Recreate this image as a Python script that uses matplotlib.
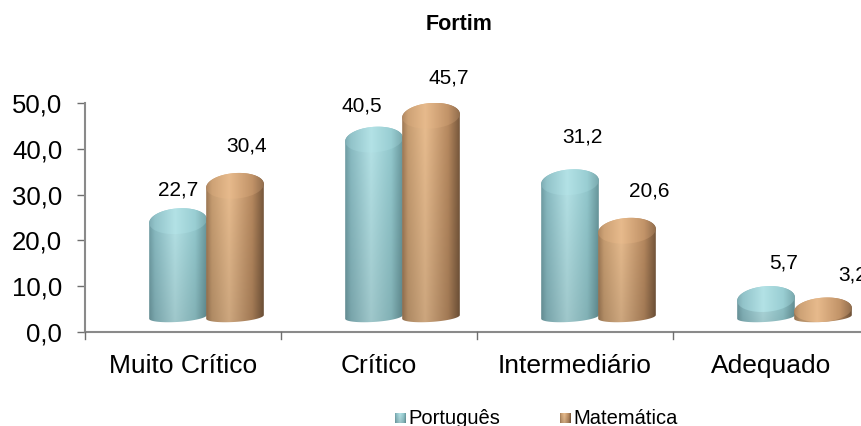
import numpy as np
import matplotlib
matplotlib.use("Agg")
import matplotlib.pyplot as plt
from matplotlib.patches import PathPatch
from matplotlib.path import Path

plt.rcParams['font.family'] = ['Liberation Sans', 'DejaVu Sans']

categories = ["Muito Crítico", "Crítico", "Intermediário", "Adequado"]
portugues = [22.7, 40.5, 31.2, 5.7]
matematica = [30.4, 45.7, 20.6, 3.2]
y_ticks = [0, 10, 20, 30, 40, 50]

W, H = 862, 426
fig = plt.figure(figsize=(W / 100, H / 100), dpi=100)
L, R, T, B = 85, 862, 103, 332
ax = fig.add_axes([L / W, 1 - B / H, (R - L) / W, (B - T) / H])
XMIN, XMAX = -0.5, -0.5 + (R - L) / 196
ax.set_xlim(XMIN, XMAX)
ax.set_ylim(0, 50)


def ramp(stops):
    xs = np.linspace(0, 1, 128)
    pos = [s[0] for s in stops]
    return np.stack([np.interp(xs, pos, [s[1][i] / 255 for s in stops]) for i in range(3)], axis=-1)


side_p = ramp([(0, (112, 158, 165)), (0.1, (138, 188, 195)), (0.45, (182, 228, 232)), (0.8, (148, 202, 207)), (1, (105, 152, 157))])
side_m = ramp([(0, (160, 122, 86)), (0.1, (200, 158, 114)), (0.4, (234, 190, 144)), (0.8, (184, 138, 96)), (1, (120, 88, 60))])
top_p = np.clip(side_p * 0.75 + 0.25 * np.array([170, 218, 222]) / 255, 0, 1)
top_m = np.clip(side_m * 0.75 + 0.25 * np.array([222, 174, 128]) / 255, 0, 1)

HALF_W = 0.147     # half cylinder width (category units)
A_TOP = 2.8        # top ellipse half height (data units)
A_BOT = 1.1        # bottom ellipse half height
TILT = 0.4         # slight perspective tilt
TOP_SHIFT = 4.3    # top edge above the value
BOT_EDGE = 2.2     # lowest edge of every cylinder
BASE = BOT_EDGE + A_BOT


def ell(xc, yc, a, t):
    return xc + HALF_W * np.cos(t), yc + a * np.sin(t) + TILT * np.cos(t)


def shaded(colors, n=64):
    f = np.linspace(1.0, 0.87, n)[:, None, None]
    return np.clip(colors[None, :, :] * f, 0, 1)


def cylinder(xc, value, side, top):
    edge = value + TOP_SHIFT
    a = min(A_TOP, (edge - BOT_EDGE) / 2)
    yt = edge - a
    t1 = np.linspace(0, -np.pi, 60)
    t2 = np.linspace(np.pi, 0, 60)
    bx, by = ell(xc, BASE, A_BOT, t1)
    tx, ty = ell(xc, yt, a, t2)
    body = PathPatch(Path(np.c_[np.r_[bx, tx, bx[0]], np.r_[by, ty, by[0]]]),
                     transform=ax.transData, fc='none', ec='none')
    ax.add_patch(body)
    ext = [xc - HALF_W, xc + HALF_W, BOT_EDGE - 1, edge + 1]
    im = ax.imshow(shaded(side), extent=ext, aspect='auto', interpolation='bilinear', zorder=2)
    im.set_clip_path(body)
    t = np.linspace(0, 2 * np.pi, 120)
    ex, ey = ell(xc, yt, a, t)
    face = PathPatch(Path(np.c_[ex, ey]), transform=ax.transData, fc='none', ec='none')
    ax.add_patch(face)
    im2 = ax.imshow(top[None, :, :], extent=ext, aspect='auto', interpolation='bilinear', zorder=2)
    im2.set_clip_path(face)


x = np.arange(len(categories))
OFF_P, OFF_M = -5 / 196, 52 / 196
label_off_p = [(0, 18), (-12, 21), (12, 32), (18, 23)]
label_off_m = [(12, 27), (18, 25), (22, 27), (30, 23)]

for i in range(len(categories)):
    cylinder(x[i] + OFF_P, portugues[i], side_p, top_p)
    cylinder(x[i] + OFF_M, matematica[i], side_m, top_m)
    for xo, val, off in ((OFF_P, portugues[i], label_off_p[i]), (OFF_M, matematica[i], label_off_m[i])):
        ax.annotate(f"{val:.1f}".replace('.', ','), (x[i] + xo, val + TOP_SHIFT),
                    xytext=(off[0] * 0.72, off[1] * 0.72), textcoords='offset points',
                    ha='center', va='center', fontsize=15, color='black',
                    annotation_clip=False, zorder=5)

ax.set_xlim(XMIN, XMAX)
ax.set_ylim(0, 50)
ax.set_yticks(y_ticks)
ax.set_yticklabels([f"{v:.1f}".replace('.', ',') for v in y_ticks], fontsize=18.5)
ax.set_xticks(x)
ax.set_xticklabels(categories, fontsize=19)
ax.tick_params(axis='x', length=0, pad=15.5)
ax.tick_params(axis='y', length=5.8, width=1.0, color='#6e6e6e', pad=10.5)
for xt in np.arange(XMIN, XMAX, 1.0):
    ax.plot([xt, xt], [0, -1.55], color='#6e6e6e', lw=1.0, clip_on=False, zorder=3)
for s in ('top', 'right'):
    ax.spines[s].set_visible(False)
for s in ('left', 'bottom'):
    ax.spines[s].set_color('#8a8a8a')
    ax.spines[s].set_linewidth(1.5)

fig.text(459 / W, 1 - 24 / H, "Fortim", ha='center', va='center', fontsize=15.5, fontweight='bold')


def legend_entry(px, label, side):
    a = fig.add_axes([px / W, 1 - 423 / H, 11 / W, 10 / H])
    a.imshow(shaded(side), aspect='auto', interpolation='bilinear')
    a.axis('off')
    fig.text((px + 13) / W, 1 - 418 / H, label, ha='left', va='center', fontsize=14.5)


legend_entry(395, "Português", side_p)
legend_entry(560, "Matemática", side_m)

fig.savefig("out.png", dpi=100)
